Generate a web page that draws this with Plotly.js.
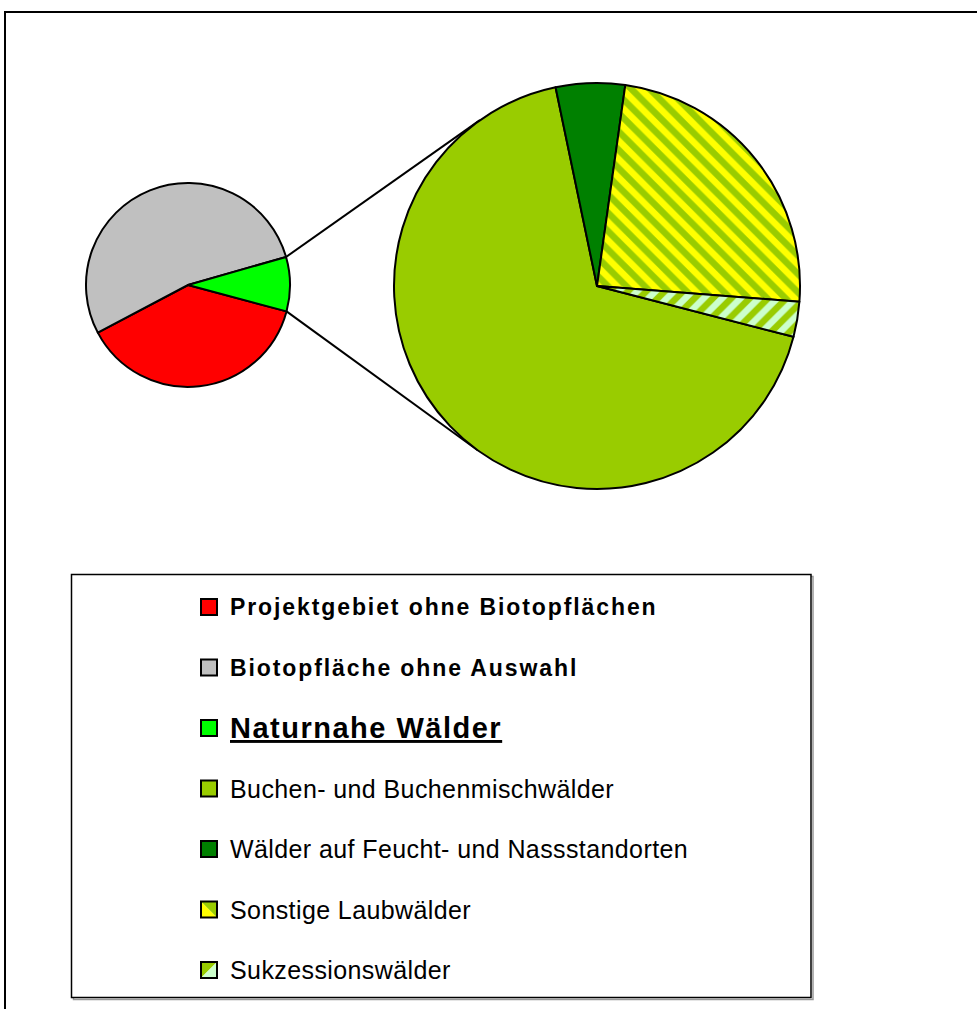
<!DOCTYPE html>
<html>
<head>
<meta charset="utf-8">
<script src="https://cdn.plot.ly/plotly-3.0.1.min.js"></script>
<style>
  html, body { margin: 0; padding: 0; background: #fff; }
  #chart { width: 977px; height: 1009px; }
</style>
</head>
<body>
<div id="chart"></div>
<script>
// ---- data ----
const smallLabels = ['Projektgebiet ohne Biotopflächen', 'Biotopfläche ohne Auswahl', 'Naturnahe Wälder'];
const smallValues = [38.1, 53.3, 8.6];
const smallColors = ['#FF0000', '#C0C0C0', '#00FF00'];

const bigLabels = ['Buchen- und Buchenmischwälder', 'Wälder auf Feucht- und Nassstandorten', 'Sonstige Laubwälder', 'Sukzessionswälder'];
const bigValues = [67.7, 5.5, 24.0, 2.8];
const bigColors = ['#99CC00', '#008000', '#99CC00', '#CCFFCC'];
const bigPatternShapes = ['', '', '\\', '/'];
const bigPatternFg = ['#99CC00', '#008000', '#FFFF00', '#99CC00'];

// ---- layout geometry (pixels) ----
const W = 977, H = 1009;
const small = { cx: 188, cy: 285, r: 102, rotation: 105 };
const big = { cx: 597, cy: 286, r: 203, rotation: 104.5 };
const px = x => x / W;
const py = y => 1 - y / H;

function domainOf(p) {
  return { x: [px(p.cx - p.r), px(p.cx + p.r)], y: [py(p.cy + p.r), py(p.cy - p.r)] };
}

const traces = [
  {
    type: 'pie', sort: false, direction: 'clockwise', rotation: small.rotation,
    labels: smallLabels, values: smallValues,
    marker: { colors: smallColors, line: { color: '#000', width: 2 } },
    textinfo: 'none', hoverinfo: 'label+percent', showlegend: false,
    domain: domainOf(small)
  },
  {
    type: 'pie', sort: false, direction: 'clockwise', rotation: big.rotation,
    labels: bigLabels, values: bigValues,
    marker: {
      colors: bigColors, line: { color: '#000', width: 2 },
      pattern: { shape: bigPatternShapes, fgcolor: bigPatternFg, bgcolor: bigColors, size: 13, solidity: 0.5, fillmode: 'replace' }
    },
    textinfo: 'none', hoverinfo: 'label+percent', showlegend: false,
    domain: domainOf(big)
  }
];

// ---- connector lines: edges of the "other" slice (last small slice) tangent to big pie ----
const total = smallValues.reduce((a, b) => a + b, 0);
const otherStart = small.rotation + 360 * (total - smallValues[smallValues.length - 1]) / total;
const otherEnd = small.rotation + 360;
function onSmall(deg) {
  const a = deg * Math.PI / 180;
  return [small.cx + small.r * Math.sin(a), small.cy - small.r * Math.cos(a)];
}
function tangent(P, upper) {
  const dx = big.cx - P[0], dy = big.cy - P[1];
  const d = Math.hypot(dx, dy);
  const th = Math.atan2(dy, dx);
  const al = Math.asin(big.r / d);
  const L = Math.sqrt(d * d - big.r * big.r);
  const ang = upper ? th - al : th + al;
  return [P[0] + L * Math.cos(ang), P[1] + L * Math.sin(ang)];
}
const shapes = [];
[[otherStart, true], [otherEnd, false]].forEach(([deg, up]) => {
  const P = onSmall(deg);
  const T = tangent(P, up);
  shapes.push({ type: 'line', xref: 'paper', yref: 'paper', x0: px(P[0]), y0: py(P[1]), x1: px(T[0]), y1: py(T[1]),
    line: { color: '#000', width: 2 }, layer: 'below' });
});

// outer frame
shapes.push({ type: 'rect', xref: 'paper', yref: 'paper', x0: px(5), y0: py(1040), x1: px(1010), y1: py(12),
  line: { color: '#000', width: 2 }, fillcolor: 'rgba(0,0,0,0)' });

// legend box (shadow + box)
const LB = { x0: 71.5, y0: 574.5, x1: 811, y1: 997.5 };
shapes.push({ type: 'rect', xref: 'paper', yref: 'paper', x0: px(LB.x0 + 2), y0: py(LB.y1 + 2), x1: px(LB.x1 + 2), y1: py(LB.y0 + 2),
  line: { color: '#999', width: 1.5 }, fillcolor: 'rgba(0,0,0,0)' });
shapes.push({ type: 'rect', xref: 'paper', yref: 'paper', x0: px(LB.x0), y0: py(LB.y1), x1: px(LB.x1), y1: py(LB.y0),
  line: { color: '#000', width: 1.5 }, fillcolor: '#fff' });

// legend entries
const legendLabels = smallLabels.concat(bigLabels);
const legendFill = [
  [smallColors[0]], [smallColors[1]], [smallColors[2]],
  [bigColors[0]], [bigColors[1]],
  [bigPatternFg[2], bigColors[2]],
  [bigPatternFg[3], bigColors[3]]
];
const legendStyle = [
  { size: 23, weight: 'bold', spacing: 1.9 },
  { size: 23, weight: 'bold', spacing: 1.9 },
  { size: 29, weight: 'bold', lineposition: 'under', spacing: 1.5 },
  { size: 25, weight: 'normal', spacing: 0.4 },
  { size: 25, weight: 'normal', spacing: 0.4 },
  { size: 25, weight: 'normal', spacing: 0.4 },
  { size: 25, weight: 'normal', spacing: 0.4 }
];
const rowY0 = 607, rowStep = 60.5;
const sw = { x: 201, s: 16 };
const annotations = [];
legendLabels.forEach((lab, i) => {
  const yc = rowY0 + i * rowStep;
  const x0 = sw.x, x1 = sw.x + sw.s, y0 = yc - sw.s / 2, y1 = yc + sw.s / 2;
  const f = legendFill[i];
  if (f.length === 1) {
    shapes.push({ type: 'rect', xref: 'paper', yref: 'paper', x0: px(x0), y0: py(y1), x1: px(x1), y1: py(y0),
      fillcolor: f[0], line: { color: '#000', width: 2 } });
  } else {
    const tri1 = i === 5
      ? `M${px(x0)},${py(y0)} L${px(x0)},${py(y1)} L${px(x1)},${py(y1)} Z`
      : `M${px(x0)},${py(y0)} L${px(x1)},${py(y0)} L${px(x0)},${py(y1)} Z`;
    const tri2 = i === 5
      ? `M${px(x0)},${py(y0)} L${px(x1)},${py(y0)} L${px(x1)},${py(y1)} Z`
      : `M${px(x1)},${py(y0)} L${px(x1)},${py(y1)} L${px(x0)},${py(y1)} Z`;
    shapes.push({ type: 'path', xref: 'paper', yref: 'paper', path: tri1, fillcolor: f[0], line: { width: 0 } });
    shapes.push({ type: 'path', xref: 'paper', yref: 'paper', path: tri2, fillcolor: f[1], line: { width: 0 } });
    shapes.push({ type: 'rect', xref: 'paper', yref: 'paper', x0: px(x0), y0: py(y1), x1: px(x1), y1: py(y0),
      fillcolor: 'rgba(0,0,0,0)', line: { color: '#000', width: 2 } });
  }
  const st = legendStyle[i];
  const font = { family: '"Liberation Sans", Arial, sans-serif', color: '#000', size: st.size, weight: st.weight };
  if (st.lineposition) font.lineposition = st.lineposition;
  annotations.push({
    xref: 'paper', yref: 'paper', x: px(228), y: py(yc), xanchor: 'left', yanchor: 'middle',
    text: '<span style="letter-spacing:' + st.spacing + 'px">' + lab + '</span>', showarrow: false,
    font: font
  });
});

const layout = {
  width: W, height: H,
  margin: { l: 0, r: 0, t: 0, b: 0 },
  paper_bgcolor: '#fff',
  showlegend: false,
  shapes: shapes,
  annotations: annotations
};

Plotly.newPlot('chart', traces, layout, { displayModeBar: false, staticPlot: true });
</script>
</body>
</html>
